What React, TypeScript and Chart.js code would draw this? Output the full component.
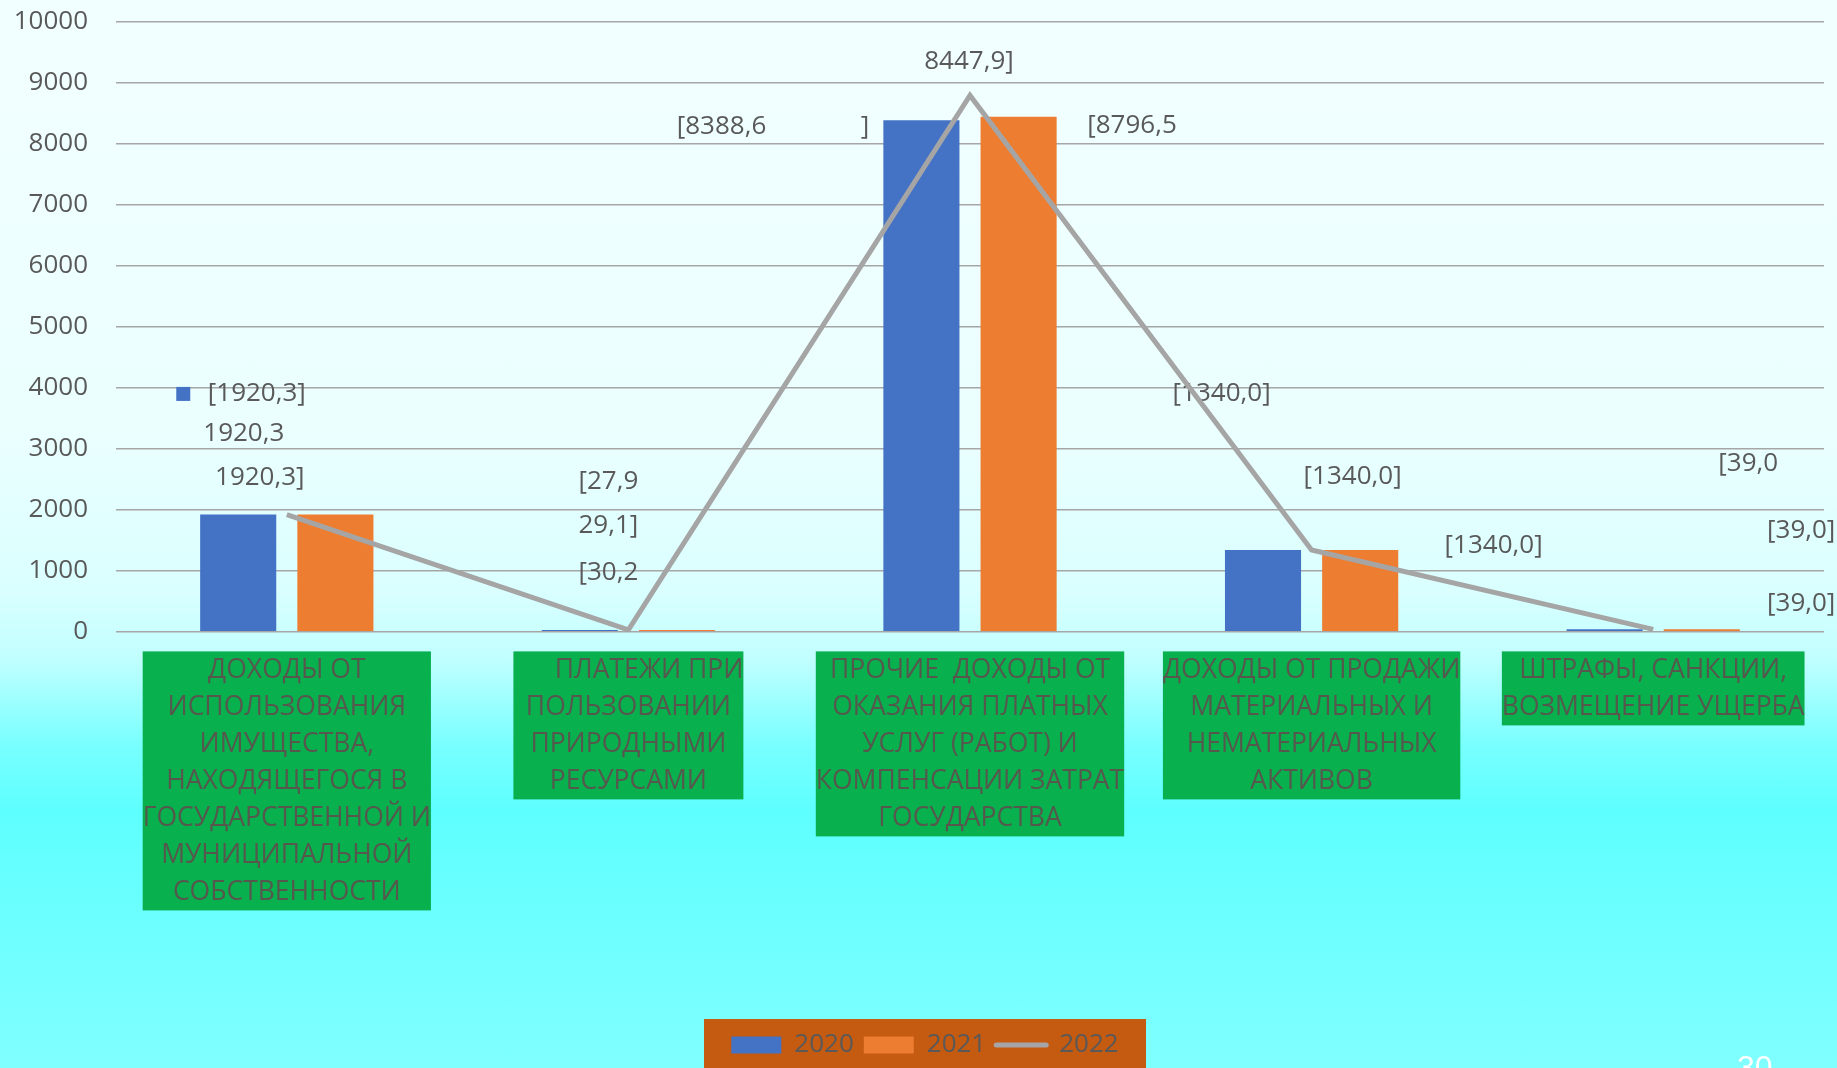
import React, { useEffect, useRef } from "react";
import { Chart, registerables } from "chart.js";

Chart.register(...registerables);

// ---------- data ----------
const CATEGORIES: string[][] = [
  ["ДОХОДЫ ОТ", "ИСПОЛЬЗОВАНИЯ", "ИМУЩЕСТВА,", "НАХОДЯЩЕГОСЯ В", "ГОСУДАРСТВЕННОЙ И", "МУНИЦИПАЛЬНОЙ", "СОБСТВЕННОСТИ"],
  ["      ПЛАТЕЖИ ПРИ", "ПОЛЬЗОВАНИИ", "ПРИРОДНЫМИ", "РЕСУРСАМИ"],
  ["ПРОЧИЕ  ДОХОДЫ ОТ", "ОКАЗАНИЯ ПЛАТНЫХ", "УСЛУГ (РАБОТ) И", "КОМПЕНСАЦИИ ЗАТРАТ", "ГОСУДАРСТВА"],
  ["ДОХОДЫ ОТ ПРОДАЖИ", "МАТЕРИАЛЬНЫХ И", "НЕМАТЕРИАЛЬНЫХ", "АКТИВОВ"],
  ["ШТРАФЫ, САНКЦИИ,", "ВОЗМЕЩЕНИЕ УЩЕРБА"],
];

const SERIES_NAMES = ["2020", "2021", "2022"];
const VALUES_2020 = [1920.3, 27.9, 8388.6, 1340.0, 39.0];
const VALUES_2021 = [1920.3, 29.1, 8447.9, 1340.0, 39.0];
const VALUES_2022 = [1920.3, 30.2, 8796.5, 1340.0, 39.0];

const Y_MIN = 0;
const Y_MAX = 10000;
const Y_STEP = 1000;

const LABELS_2020 = ["[1920,3]", "[27,9", "[8388,6              ]", "[1340,0]", "[39,0"];
const LABELS_2021 = ["1920,3", "29,1]", "8447,9]", "[1340,0]", "[39,0]"];
const LABELS_2022 = ["1920,3]", "[30,2", "[8796,5", "[1340,0]", "[39,0]"];

const PAGE_NUMBER = "30";

// ---------- layout / style (not data) ----------
// label placement per series: [pixel offset from category centre, height on value axis]
const LABEL_PLACEMENT: [number, number][][] = [
  [[-30, 3900], [-20, 2462], [-197, 8282], [-90, 3902], [95, 2749]],
  [[-43, 3249], [-20, 1733], [-1, 9356], [41, 2539], [148, 1656]],
  [[-27, 2520], [-20, 963], [162, 8300], [182, 1405], [148, 464]],
];
const LABEL_KEY = { series: 0, category: 0 };
const LEGEND_SHIFT = 13;

const COLORS = ["#4472C4", "#ED7D31", "#A5A5A5"];
const TEXT = "#595959";
const FONT = '"Open Sans", "Liberation Sans", sans-serif';

const SERIES_LABELS = [LABELS_2020, LABELS_2021, LABELS_2022];

const dataLabelsPlugin = {
  id: "dataLabels",
  beforeDatasetsDraw(chart: any) {
    const { ctx } = chart;
    const x = chart.scales.x;
    const y = chart.scales.y;
    ctx.save();
    ctx.font = `26px ${FONT}`;
    ctx.textAlign = "center";
    ctx.textBaseline = "middle";
    SERIES_LABELS.forEach((labels, s) => {
      labels.forEach((text, i) => {
        const [dx, vy] = LABEL_PLACEMENT[s][i];
        const px = x.getPixelForTick(i) + dx;
        const py = y.getPixelForValue(vy);
        ctx.fillStyle = TEXT;
        ctx.fillText(text, px, py);
        if (s === LABEL_KEY.series && i === LABEL_KEY.category) {
          const w = ctx.measureText(text).width;
          ctx.fillStyle = COLORS[s];
          ctx.fillRect(px - w / 2 - 31.5, py - 7, 14, 14);
        }
      });
    });
    ctx.restore();
  },
};

const categoryBoxesPlugin = {
  id: "categoryBoxes",
  afterDraw(chart: any) {
    const { ctx, chartArea } = chart;
    const x = chart.scales.x;
    ctx.save();
    ctx.font = `26.5px ${FONT}`;
    ctx.textAlign = "center";
    ctx.textBaseline = "middle";
    const top = chartArea.bottom + 19.7;
    const lineH = 37;
    (chart.data.labels as string[][]).forEach((lines, i) => {
      const cx = x.getPixelForTick(i);
      const w = Math.max(...lines.map((l) => ctx.measureText(l).width));
      ctx.fillStyle = "#08B04E";
      ctx.fillRect(cx - w / 2, top, w, lines.length * lineH);
      ctx.fillStyle = "#56584E";
      lines.forEach((l, k) => ctx.fillText(l, cx, top + lineH / 2 + k * lineH + 1));
    });
    ctx.restore();
  },
};

const legendBoxPlugin = {
  id: "legendBox",
  afterLayout(chart: any) {
    const lg = chart.legend;
    if (!lg) return;
    lg.left += LEGEND_SHIFT;
    lg.right += LEGEND_SHIFT;
  },
  beforeDraw(chart: any) {
    const lg = chart.legend;
    if (!lg) return;
    const center = (lg.left + lg.right) / 2;
    const { ctx } = chart;
    ctx.save();
    ctx.fillStyle = "#C55A11";
    ctx.fillRect(center - 221, lg.top - 3, 442, chart.height - lg.top + 10);
    ctx.restore();
  },
};

export default function App() {
  const ref = useRef<HTMLCanvasElement>(null);

  useEffect(() => {
    const prevMargin = document.body.style.margin;
    document.body.style.margin = "0";
    const canvas = ref.current!;
    const chart = new Chart(canvas, {
      type: "bar",
      data: {
        labels: CATEGORIES as any,
        datasets: [
          {
            type: "bar",
            label: SERIES_NAMES[0],
            data: VALUES_2020,
            backgroundColor: COLORS[0],
            borderWidth: 0,
            order: 1,
            categoryPercentage: 0.569,
            barPercentage: 0.783,
          },
          {
            type: "bar",
            label: SERIES_NAMES[1],
            data: VALUES_2021,
            backgroundColor: COLORS[1],
            borderWidth: 0,
            order: 1,
            categoryPercentage: 0.569,
            barPercentage: 0.783,
          },
          {
            type: "line",
            label: SERIES_NAMES[2],
            data: VALUES_2022,
            borderColor: COLORS[2],
            backgroundColor: COLORS[2],
            borderWidth: 5,
            pointRadius: 0,
            fill: false,
            tension: 0,
            order: 0,
          } as any,
        ],
      },
      options: {
        responsive: false,
        animation: false,
        events: [],
        layout: { padding: { top: 22, right: 13, left: 0, bottom: 0 } },
        scales: {
          x: {
            offset: true,
            grid: { display: false },
            border: { display: false },
            ticks: { display: false },
            afterFit: (s: any) => {
              s.height = 390.3;
            },
          },
          y: {
            min: Y_MIN,
            max: Y_MAX,
            ticks: {
              stepSize: Y_STEP,
              padding: 0,
              color: TEXT,
              font: { family: FONT, size: 26 },
              callback: (v: any) => String(v),
            },
            grid: {
              color: "#A6A6A6",
              lineWidth: 1.5,
              drawTicks: true,
              tickLength: 28,
              tickColor: "rgba(0,0,0,0)",
            },
            border: { display: false },
            afterFit: (s: any) => {
              s.width = 116;
            },
          },
        },
        plugins: {
          tooltip: { enabled: false },
          legend: {
            position: "bottom",
            labels: {
              usePointStyle: true,
              pointStyleWidth: 50,
              boxHeight: 17,
              padding: 10,
              color: TEXT,
              font: { family: FONT, size: 26 },
              sort: (a: any, b: any) => a.datasetIndex - b.datasetIndex,
              generateLabels: (ch: any) =>
                ch.data.datasets.map((ds: any, i: number) => {
                  const isLine = ds.type === "line";
                  return {
                    text: ds.label,
                    datasetIndex: i,
                    fillStyle: isLine ? "rgba(0,0,0,0)" : ds.backgroundColor,
                    strokeStyle: isLine ? ds.borderColor : ds.backgroundColor,
                    lineWidth: isLine ? 5 : 0,
                    lineCap: "round",
                    pointStyle: isLine ? "line" : "rect",
                    hidden: false,
                    fontColor: TEXT,
                  };
                }),
            },
          },
        },
      },
      plugins: [legendBoxPlugin, dataLabelsPlugin, categoryBoxesPlugin],
    });
    return () => {
      chart.destroy();
      document.body.style.margin = prevMargin;
    };
  }, []);

  return (
    <div
      style={{
        position: "fixed",
        left: 0,
        top: 0,
        width: 1837,
        height: 1068,
        overflow: "hidden",
        background:
          "linear-gradient(to bottom, #F2FFFF 0px, #EBFFFF 430px, #DAFFFF 590px, #C0FFFF 660px, #78FFFF 745px, #5EFFFF 810px, #80FFFF 1068px)",
      }}
    >
      <canvas ref={ref} width={1837} height={1068} style={{ display: "block", width: 1837, height: 1068 }} />
      <div
        style={{
          position: "absolute",
          left: 1737,
          top: 1051,
          color: "#FFFFFF",
          font: '32px "Liberation Sans", sans-serif',
          lineHeight: "32px",
        }}
      >
        {PAGE_NUMBER}
      </div>
    </div>
  );
}
